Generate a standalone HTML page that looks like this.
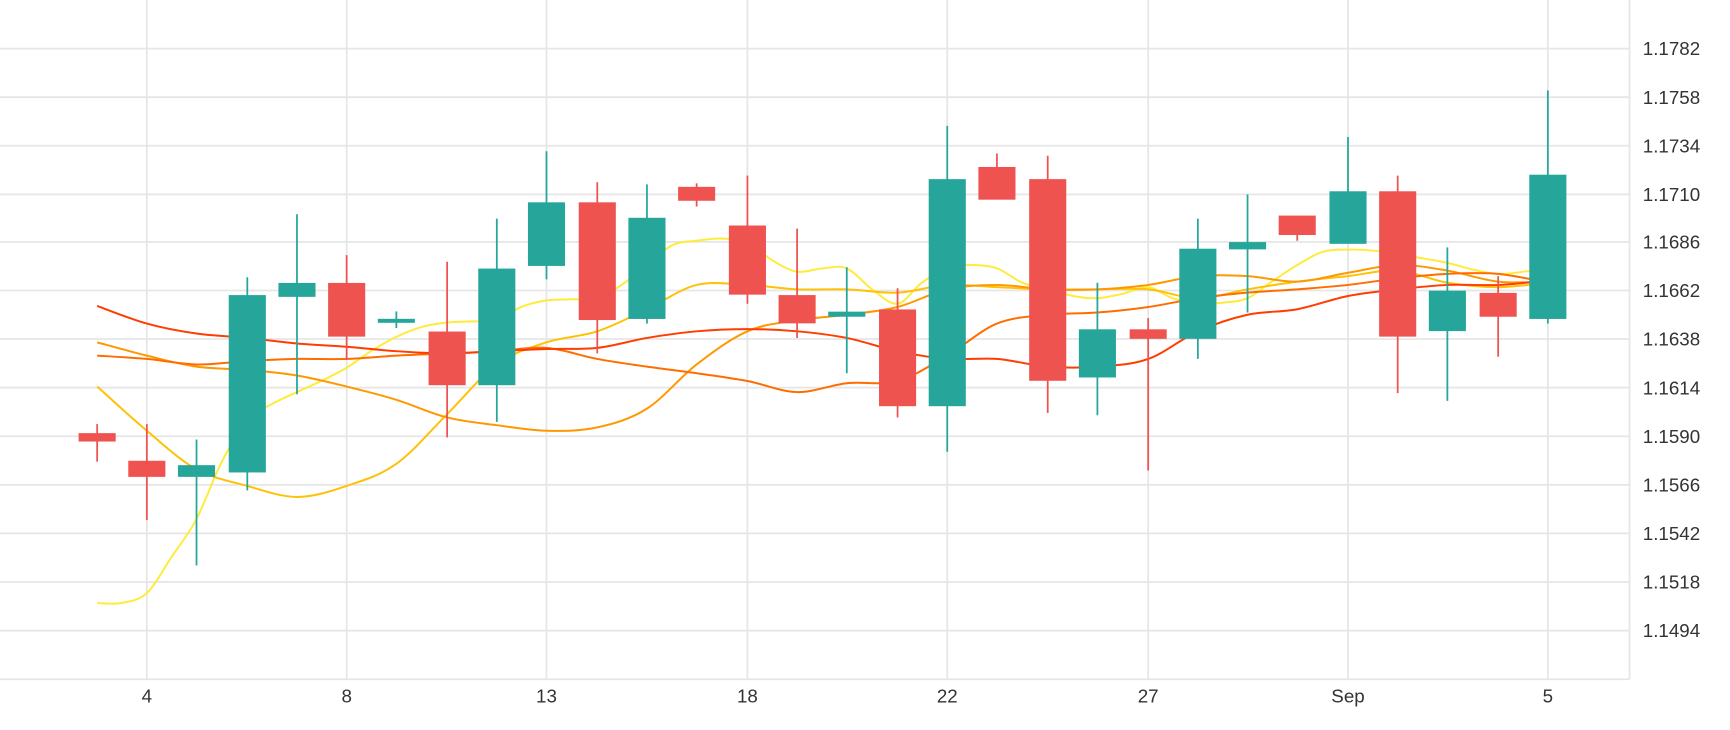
<!DOCTYPE html>
<html><head><meta charset="utf-8"><style>
html,body{margin:0;padding:0;background:#fff;}
svg{display:block;}
text{font-family:"Liberation Sans",sans-serif;font-size:17px;fill:#333;}
</style></head><body>
<svg id="c" width="1730" height="730" viewBox="0 0 1567 661" preserveAspectRatio="none">
<g stroke="#e6e6e6" stroke-width="1.6">
<line x1="0" y1="44" x2="1476" y2="44"/><line x1="0" y1="88" x2="1476" y2="88"/><line x1="0" y1="132" x2="1476" y2="132"/><line x1="0" y1="176" x2="1476" y2="176"/><line x1="0" y1="219" x2="1476" y2="219"/><line x1="0" y1="263" x2="1476" y2="263"/><line x1="0" y1="307" x2="1476" y2="307"/><line x1="0" y1="351" x2="1476" y2="351"/><line x1="0" y1="395" x2="1476" y2="395"/><line x1="0" y1="439" x2="1476" y2="439"/><line x1="0" y1="483" x2="1476" y2="483"/><line x1="0" y1="527" x2="1476" y2="527"/><line x1="0" y1="571" x2="1476" y2="571"/><line x1="0" y1="615" x2="1476" y2="615"/>
<line x1="133" y1="0" x2="133" y2="615"/><line x1="314" y1="0" x2="314" y2="615"/><line x1="495" y1="0" x2="495" y2="615"/><line x1="677" y1="0" x2="677" y2="615"/><line x1="858" y1="0" x2="858" y2="615"/><line x1="1040" y1="0" x2="1040" y2="615"/><line x1="1221" y1="0" x2="1221" y2="615"/><line x1="1402" y1="0" x2="1402" y2="615"/><line x1="1476" y1="0" x2="1476" y2="615"/>
</g>
<g>
<text x="1488" y="50">1.1782</text><text x="1488" y="94">1.1758</text><text x="1488" y="138">1.1734</text><text x="1488" y="182">1.1710</text><text x="1488" y="225">1.1686</text><text x="1488" y="269">1.1662</text><text x="1488" y="313">1.1638</text><text x="1488" y="357">1.1614</text><text x="1488" y="401">1.1590</text><text x="1488" y="445">1.1566</text><text x="1488" y="489">1.1542</text><text x="1488" y="533">1.1518</text><text x="1488" y="577">1.1494</text>
</g>
<g text-anchor="middle">
<text x="133" y="636">4</text><text x="314" y="636">8</text><text x="495" y="636">13</text><text x="677" y="636">18</text><text x="858" y="636">22</text><text x="1040" y="636">27</text><text x="1221" y="636">Sep</text><text x="1402" y="636">5</text>
</g>
<g id="lines" fill="none" stroke-width="1.8" stroke-linejoin="round">
<polyline stroke="#ffeb3b" points="88,546 110,546 133,537 155,505 178,470 200,420 224,380 246,366 269,355 291,345 314,333 336,318 359,305 382,296 405,292 428,291 450,290 472,278 495,272 518,271 541,270 563,258 586,240 609,222 631,218 654,216 677,220 700,236 722,246 745,243 767,243 790,262 813,275 835,256 858,243 880,240 903,243 926,256 949,262 972,268 994,270 1017,266 1040,260 1062,270 1085,275 1108,274 1130,270 1152,255 1175,240 1198,228 1221,226 1244,227 1266,230 1289,234 1311,238 1334,244 1357,248 1380,246 1402,242"/>
<polyline stroke="#ffc107" points="88,350 133,390 178,425 224,440 269,450 314,440 359,420 405,375 450,330 495,310 541,300 586,280 631,258 677,258 722,262 767,262 813,265 858,258 903,260 949,262 994,262 1040,262 1085,270 1130,262 1175,255 1221,250 1266,245 1311,256 1357,260 1402,256"/>
<polyline stroke="#ff9800" points="88,310 133,322 178,332 224,335 269,340 314,350 359,362 405,378 450,385 495,390 541,387 586,370 631,330 677,300 722,290 767,285 813,278 858,262 903,258 949,262 994,262 1040,258 1085,250 1130,250 1175,255 1221,247 1266,240 1311,245 1357,255 1402,255"/>
<polyline stroke="#ff6d00" points="88,322 133,325 178,330 224,327 269,325 314,325 359,322 405,320 450,318 495,315 541,325 586,332 631,338 677,345 722,355 767,347 813,345 858,322 903,293 949,285 994,283 1040,278 1085,270 1130,265 1175,262 1221,258 1266,252 1311,248 1357,248 1402,256"/>
<polyline stroke="#ff3d00" points="88,277 133,293 178,302 224,306 269,311 314,314 359,318 405,320 450,318 495,316 541,315 586,306 631,300 677,298 722,300 767,306 813,318 858,325 903,325 949,332 994,332 1040,325 1085,300 1130,285 1175,280 1221,268 1266,262 1311,258 1357,258 1402,254"/>
</g>
<g stroke-width="1.6">
<g stroke="#ef5350" fill="#ef5350">
<line x1="88" y1="384" x2="88" y2="418"/><rect x="72" y="393" width="32" height="6"/>
<line x1="133" y1="384" x2="133" y2="471"/><rect x="117" y="418" width="32" height="13"/>
<line x1="314" y1="231" x2="314" y2="326"/><rect x="298" y="257" width="32" height="47"/>
<line x1="405" y1="237" x2="405" y2="396"/><rect x="389" y="301" width="32" height="47"/>
<line x1="541" y1="165" x2="541" y2="320"/><rect x="525" y="184" width="32" height="105"/>
<line x1="631" y1="166" x2="631" y2="187"/><rect x="615" y="170" width="32" height="11"/>
<line x1="677" y1="159" x2="677" y2="275"/><rect x="661" y="205" width="32" height="61"/>
<line x1="722" y1="207" x2="722" y2="306"/><rect x="706" y="268" width="32" height="24"/>
<line x1="813" y1="261" x2="813" y2="378"/><rect x="797" y="281" width="32" height="86"/>
<line x1="903" y1="139" x2="903" y2="180"/><rect x="887" y="152" width="32" height="28"/>
<line x1="949" y1="141" x2="949" y2="374"/><rect x="933" y="163" width="32" height="181"/>
<line x1="1040" y1="288" x2="1040" y2="426"/><rect x="1024" y="299" width="32" height="7"/>
<line x1="1175" y1="196" x2="1175" y2="218"/><rect x="1159" y="196" width="32" height="16"/>
<line x1="1266" y1="159" x2="1266" y2="356"/><rect x="1250" y="174" width="32" height="130"/>
<line x1="1357" y1="250" x2="1357" y2="323"/><rect x="1341" y="266" width="32" height="20"/>
</g>
<g stroke="#26a69a" fill="#26a69a">
<line x1="178" y1="398" x2="178" y2="512"/><rect x="162" y="422" width="32" height="9"/>
<line x1="224" y1="251" x2="224" y2="444"/><rect x="208" y="268" width="32" height="159"/>
<line x1="269" y1="194" x2="269" y2="357"/><rect x="253" y="257" width="32" height="11"/>
<line x1="359" y1="282" x2="359" y2="297"/><rect x="343" y="289.5" width="32" height="2"/>
<line x1="450" y1="198" x2="450" y2="382"/><rect x="434" y="244" width="32" height="104"/>
<line x1="495" y1="137" x2="495" y2="253"/><rect x="479" y="184" width="32" height="56"/>
<line x1="586" y1="167" x2="586" y2="293"/><rect x="570" y="198" width="32" height="90"/>
<line x1="767" y1="242" x2="767" y2="338"/><rect x="751" y="283" width="32" height="3"/>
<line x1="858" y1="114" x2="858" y2="409"/><rect x="842" y="163" width="32" height="204"/>
<line x1="994" y1="256" x2="994" y2="376"/><rect x="978" y="299" width="32" height="42"/>
<line x1="1085" y1="198" x2="1085" y2="325"/><rect x="1069" y="226" width="32" height="80"/>
<line x1="1130" y1="176" x2="1130" y2="283"/><rect x="1114" y="220" width="32" height="5"/>
<line x1="1221" y1="124" x2="1221" y2="220"/><rect x="1205" y="174" width="32" height="46"/>
<line x1="1311" y1="224" x2="1311" y2="363"/><rect x="1295" y="264" width="32" height="35"/>
<line x1="1402" y1="82" x2="1402" y2="293"/><rect x="1386" y="159" width="32" height="129"/>
</g>
</g>
</svg>
<script>
(function(){
var ns="http://www.w3.org/2000/svg";
var pls=document.querySelectorAll("#lines polyline");
for(var i=0;i<pls.length;i++){
 var pl=pls[i];
 var pts=pl.getAttribute("points").trim().split(/\s+/).map(function(s){var a=s.split(",");return [+a[0],+a[1]];});
 var d="M"+pts[0][0]+","+pts[0][1];
 for(var j=0;j<pts.length-1;j++){
  var p0=pts[j-1]||pts[j],p1=pts[j],p2=pts[j+1],p3=pts[j+2]||p2;
  var c1x=p1[0]+(p2[0]-p0[0])/6,c1y=p1[1]+(p2[1]-p0[1])/6;
  var c2x=p2[0]-(p3[0]-p1[0])/6,c2y=p2[1]-(p3[1]-p1[1])/6;
  d+=" C"+c1x+","+c1y+" "+c2x+","+c2y+" "+p2[0]+","+p2[1];
 }
 var p=document.createElementNS(ns,"path");
 p.setAttribute("d",d);p.setAttribute("stroke",pl.getAttribute("stroke"));
 pl.parentNode.replaceChild(p,pl);
}
})();
</script>
</body></html>
